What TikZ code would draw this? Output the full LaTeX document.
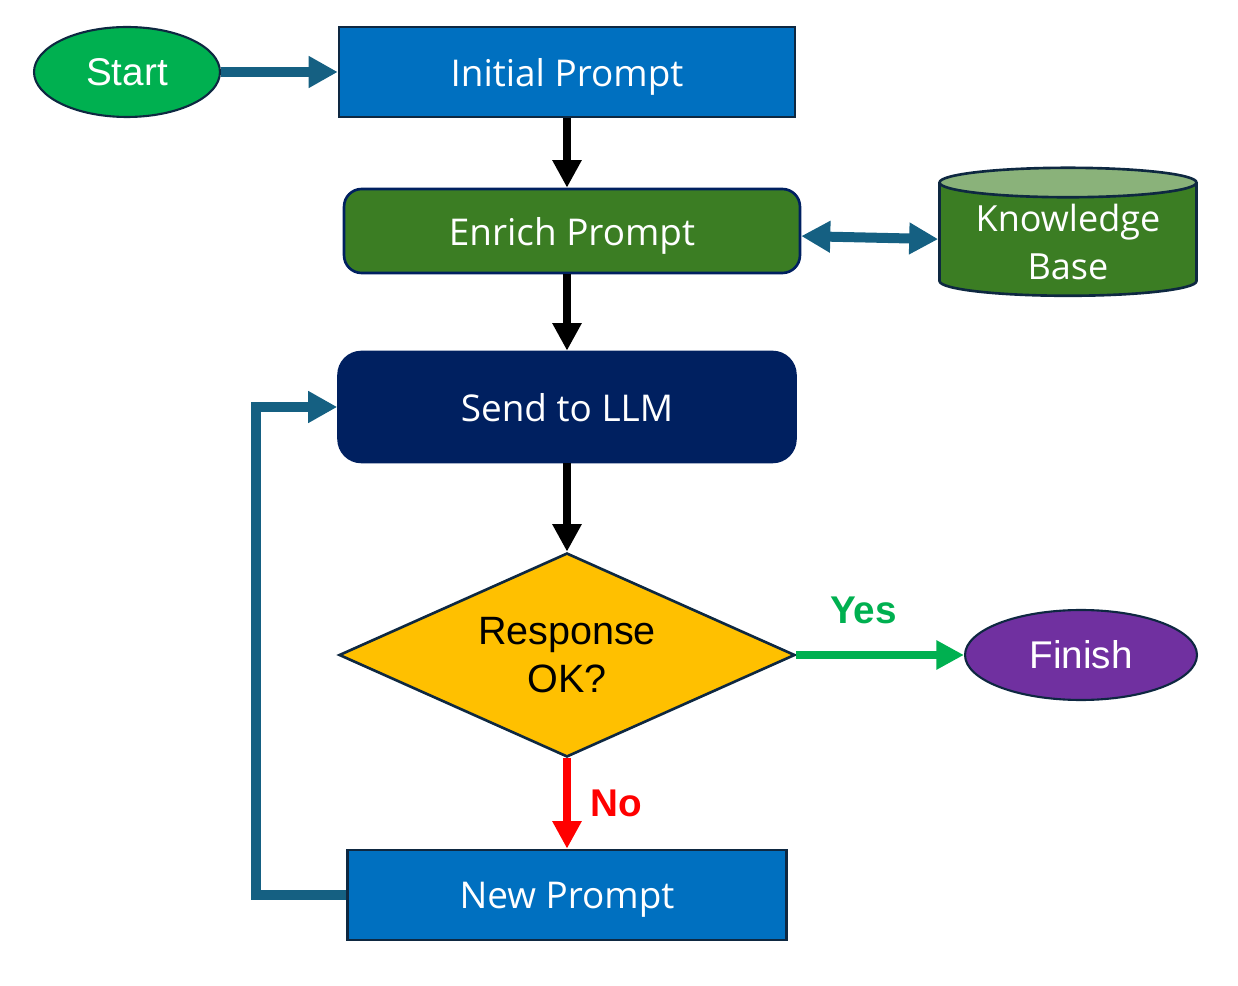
\documentclass[tikz,border=0pt]{standalone}
\usepackage{fontspec}
\setmainfont{Liberation Sans}
\newfontfamily\boxfont{Open Sans}
\usetikzlibrary{arrows.meta,shapes.geometric}
\definecolor{FlowTeal}{HTML}{156082}
\definecolor{FlowEdge}{HTML}{0E2841}
\definecolor{FlowGreen}{HTML}{00B050}
\definecolor{FlowBlue}{HTML}{0070C0}
\definecolor{FlowLeaf}{HTML}{3B7D23}
\definecolor{FlowLeafTop}{HTML}{8AB27A}
\definecolor{FlowNavy}{HTML}{002060}
\definecolor{FlowGold}{HTML}{FFC000}
\definecolor{FlowPurple}{HTML}{7030A0}
\definecolor{FlowRed}{HTML}{FF0000}
\tikzset{
  link/.style={-{Triangle[length=0.58cm,width=0.6cm]}, line width=0.2cm, draw=FlowTeal},
  both/.style={{Triangle[length=0.58cm,width=0.6cm]}-{Triangle[length=0.58cm,width=0.6cm]}, line width=0.2cm, draw=FlowTeal},
  down/.style={-{Triangle[length=0.55cm,width=0.55cm]}, line width=0.17cm, draw=black},
  yesflow/.style={-{Triangle[length=0.55cm,width=0.55cm]}, line width=0.16cm, draw=FlowGreen},
  noflow/.style={-{Triangle[length=0.55cm,width=0.55cm]}, line width=0.16cm, draw=FlowRed},
  terminal/.style={ellipse, draw=FlowEdge, line width=1.2pt, text=white, font=\fontsize{22}{26}\selectfont,
                   minimum height=1.8cm, inner sep=0pt},
  process/.style={rectangle, draw=FlowEdge, line width=1.5pt, fill=FlowBlue, text=white, text depth=0pt,
                  font=\boxfont\fontsize{21}{25}\selectfont, minimum width=9.12cm, minimum height=1.8cm},
  store/.style={cylinder, shape border rotate=90, aspect=0.15, draw=FlowEdge, line width=1.5pt,
                cylinder uses custom fill, cylinder body fill=FlowLeaf, cylinder end fill=FlowLeafTop,
                text=white, align=center, font=\boxfont\fontsize{20.5}{27}\selectfont,
                minimum width=5.14cm, minimum height=2.56cm},
  check/.style={diamond, aspect=2.2, draw=FlowEdge, line width=1.5pt, fill=FlowGold, align=center,
                font=\fontsize{22.5}{27}\selectfont, minimum width=9.12cm, minimum height=4.08cm, inner sep=0pt},
  tag/.style={font=\bfseries\fontsize{22}{26}\selectfont},
}
\begin{document}
\begin{tikzpicture}[x=0.02cm,y=-0.02cm]
  \useasboundingbox (0,0) rectangle (1238,986);
  \node[terminal,fill=FlowGreen,minimum width=3.72cm] (start) at (127,72) {Start};
  \node[process] (init) at (567,72) {Initial Prompt};
  \node[process,fill=FlowLeaf,draw=FlowNavy,rounded corners=10pt,minimum height=1.68cm] (enrich) at (572,231) {Enrich Prompt};
  \node[store] (kb) at (1068,242) {Knowledge\\Base};
  \node[process,fill=FlowNavy,draw=FlowNavy,rounded corners=13pt,minimum width=9.14cm,minimum height=2.2cm] (send) at (567,407) {Send to LLM};
  \node[check] (resp) at (567,655) {Response\\OK?};
  \node[terminal,fill=FlowPurple,minimum width=4.64cm] (finish) at (1081,655) {Finish};
  \node[process,minimum width=8.78cm] (newp) at (567,895) {New Prompt};

  \draw[link] (start) -- (init);
  \draw[down] (init) -- (init |- enrich.north);
  \draw[both] (enrich) -- (kb);
  \draw[down] (enrich.south -| send) -- (send);
  \draw[down] (send) -- (resp);
  \draw[yesflow] (resp) -- node[tag,text=FlowGreen,above=12pt,pos=0.4] {Yes} (finish);
  \draw[noflow] (resp) -- node[tag,text=FlowRed,right=8pt] {No} (newp);
  \draw[link,line cap=butt] (newp.west) -- ++(-90,0) |- (send.west);
\end{tikzpicture}
\end{document}
